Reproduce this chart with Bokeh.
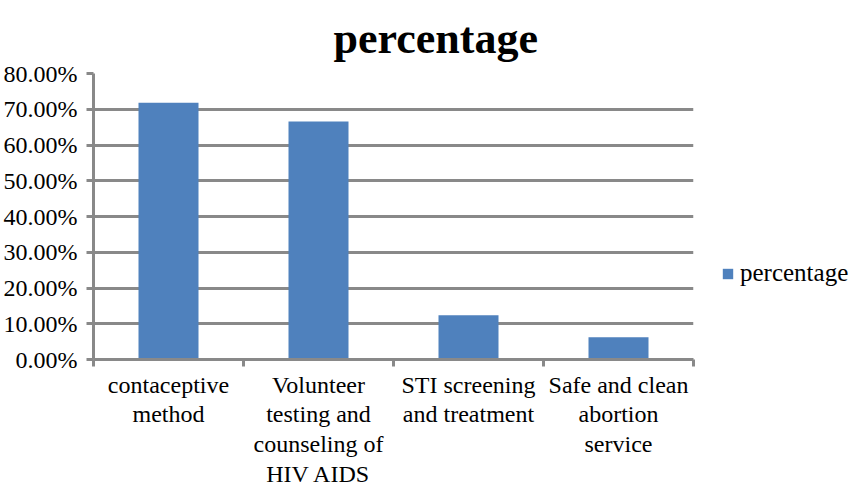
import numpy as np
from bokeh.plotting import figure
from bokeh.models import (ColumnDataSource, FixedTicker, NumeralTickFormatter,
                          Legend, LegendItem, Range1d)
from bokeh.embed import file_html
from bokeh.resources import INLINE

categories = ["contaceptive method", "Volunteer testing and counseling of HIV AIDS",
              "STI screening and treatment", "Safe and clean abortion service"]
tick_labels = ["contaceptive\nmethod", "Volunteer\ntesting and\ncounseling of\nHIV AIDS",
               "STI screening\nand treatment", "Safe and clean\nabortion\nservice"]
values = [0.718, 0.666, 0.124, 0.062]
y_ticks = [0.0, 0.1, 0.2, 0.3, 0.4, 0.5, 0.6, 0.7, 0.8]
series_name = "percentage"
title_text = "percentage"

FONT = "Liberation Serif"
GRID = "#898989"

n = len(categories)
centers = list(np.arange(n) + 0.5)
bounds = list(np.arange(n + 1).astype(float))

src = ColumnDataSource(dict(x=centers, top=values, cat=categories))

p = figure(frame_width=600, frame_height=286, output_backend="svg", toolbar_location=None,
           x_range=Range1d(0, n), y_range=Range1d(0, 0.8),
           min_border_left=89, min_border_right=149, min_border_top=65,
           min_border_bottom=100, title=title_text)
p.outline_line_color = None
p.background_fill_color = "white"
p.border_fill_color = "white"

p.title.text_font = FONT
p.title.text_font_size = "44px"
p.title.text_font_style = "bold"
p.title.text_color = "black"
p.title.align = "left"
p.title.offset = 240
p.title.standoff = 22

r = p.vbar(x="x", top="top", width=0.4, source=src, color="#4F81BD", line_color=None)

# x axis
xa = p.xaxis[0]
xa.ticker = FixedTicker(ticks=centers, minor_ticks=bounds)
xa.major_label_overrides = {c: lab for c, lab in zip(centers, tick_labels)}
xa.major_tick_line_color = None
xa.major_tick_out = 0
xa.major_tick_in = 0
xa.minor_tick_out = 7
xa.minor_tick_in = 0
xa.minor_tick_line_color = GRID
xa.minor_tick_line_width = 3
xa.axis_line_color = GRID
xa.axis_line_width = 3
xa.major_label_text_font = FONT
xa.major_label_text_font_size = "24px"
xa.major_label_text_color = "black"
xa.major_label_standoff = 5
xa.major_label_text_line_height = 1.15

# y axis
ya = p.yaxis[0]
ya.ticker = FixedTicker(ticks=y_ticks, minor_ticks=[])
ya.formatter = NumeralTickFormatter(format="0.00%")
ya.major_tick_out = 7
ya.major_tick_in = 0
ya.major_tick_line_color = GRID
ya.major_tick_line_width = 3
ya.axis_line_color = GRID
ya.axis_line_width = 3
ya.major_label_text_font = FONT
ya.major_label_text_font_size = "24px"
ya.major_label_text_color = "black"
ya.major_label_standoff = 9

p.xgrid.grid_line_color = None
p.ygrid.ticker = FixedTicker(ticks=y_ticks)
p.ygrid.grid_line_color = GRID
p.ygrid.grid_line_width = 3

legend = Legend(items=[LegendItem(label=series_name, renderers=[r])],
                location=(28, 72), padding=0, margin=0, spacing=0,
                border_line_color=None, background_fill_alpha=0,
                glyph_width=13, glyph_height=13, label_standoff=6,
                label_text_font=FONT, label_text_font_size="25px",
                label_text_color="black")
p.add_layout(legend, "right")

open("out.html", "w").write(file_html(p, INLINE))
